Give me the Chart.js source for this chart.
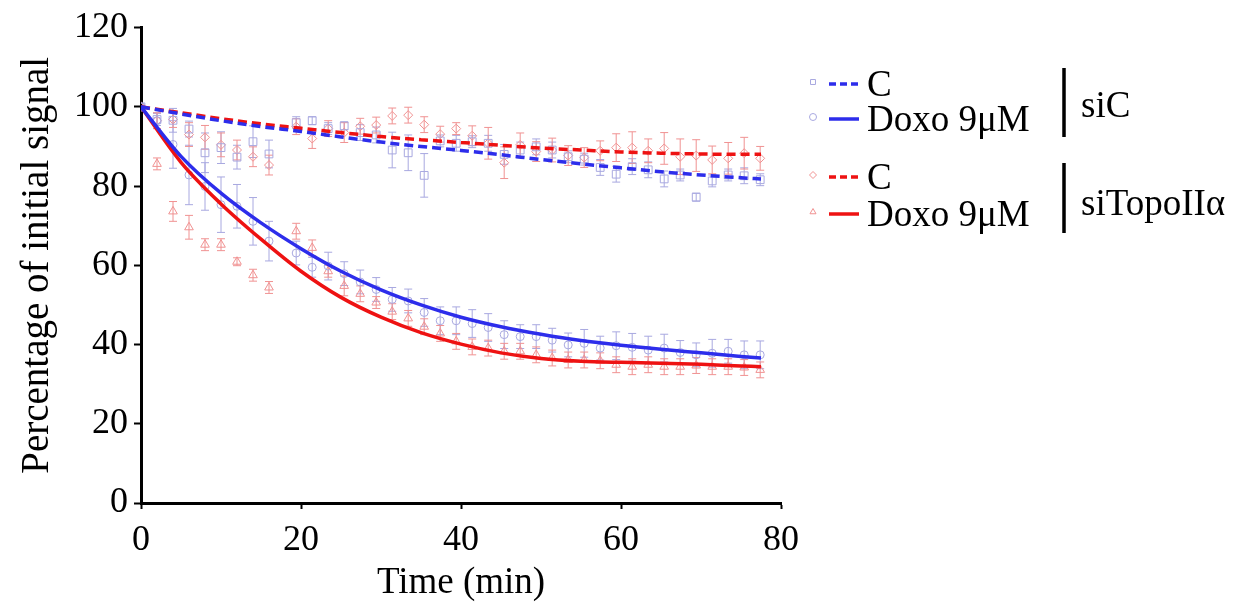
<!DOCTYPE html>
<html>
<head>
<meta charset="utf-8">
<script src="https://cdn.jsdelivr.net/npm/chart.js@4"></script>
<style>
  html, body { margin: 0; padding: 0; background: #fff; }
  #wrap { position: relative; width: 1247px; height: 610px; }
</style>
</head>
<body>
<div id="wrap"><canvas id="chart" width="1247" height="610"></canvas></div>
<script>
// Tiempos de medida (min)
const times = [0, 2, 4, 6, 8, 10, 12, 14, 16, 19.4, 21.4, 23.4, 25.4, 27.4, 29.4, 31.4, 33.4, 35.4, 37.4, 39.4,
  41.4, 43.4, 45.4, 47.4, 49.4, 51.4, 53.4, 55.4, 57.4, 59.4, 61.4, 63.4, 65.4, 67.4, 69.4, 71.4, 73.4, 75.4, 77.4];

// siC - C (cuadrados)
const siC_C = [100, 96.8, 96.6, 94.4, 88.4, 89.7, 87.3, 91.2, 88.1, 96, 96.5, 94.5, 95.2, 93.5, 92.9, 89.1, 88.4, 82.7, 91.4, 90.8,
  91.2, 90.8, 88.0, 89.1, 89.9, 89.1, 87.4, 86.8, 84.7, 83.0, 84.9, 84.1, 81.8, 82.8, 77.2, 81.3, 82.8, 82.6, 81.6];
const siC_C_err = [0, 1.5, 3, 2, 5, 4, 3, 4, 3.5, 1.5, 1, 1.5, 1, 2, 2, 4.5, 4.5, 5.5, 1.5, 2,
  1.5, 2, 2.5, 2, 2, 2, 1.5, 1.5, 2, 2, 2, 2, 2, 1.5, 1, 1.5, 1.5, 2, 1.5];

// siC - Doxo 9µM (círculos)
const siC_D = [100, 96.5, 90.5, 82.8, 79.9, 75.3, 74.9, 71.1, 66.1, 63.1, 59.5, 59.8, 57.9, 55.8, 53.9, 51.4, 51.0, 48.1, 46.0, 46.0,
  45.3, 44.3, 42.5, 42.0, 42.0, 41.1, 39.9, 40.3, 39.1, 39.7, 39.3, 38.6, 39.1, 38.0, 37.4, 37.8, 38.3, 37.4, 37.4];
const siC_D_err = [0, 2, 6, 7.5, 6, 7, 5.5, 6, 5, 3, 2.5, 3.5, 3, 3, 3, 3, 3, 3.5, 3.5, 3.5,
  3.5, 3.5, 3.5, 3, 3, 3, 3, 3.5, 3, 3.5, 3.5, 3.5, 3.5, 3, 3, 3.5, 3, 3.5, 3.5];

// siTopoIIα - C (rombos)
const siT_C = [100, 96.5, 96.8, 93, 92.3, 90.4, 89.1, 87.4, 85.3, 95, 92.0, 94.5, 93.5, 95.1, 95.4, 97.7, 97.9, 95.5, 93.1, 94.5,
  92.7, 90.8, 85.9, 90.4, 88.7, 89.1, 87.7, 87.2, 88.9, 89.7, 89.7, 88.9, 89.5, 87.4, 87.7, 86.6, 87.0, 88.3, 87.0];
const siT_C_err = [0, 2, 2, 3, 3, 3, 2.5, 2.5, 2.5, 2, 2.5, 2, 2.5, 2, 2, 2, 2, 2, 2, 1.5,
  2.5, 4, 4, 3, 2.5, 3, 2.5, 2.5, 2.5, 3.5, 4, 3, 4, 4.5, 4, 3.5, 4, 4, 3];

// siTopoIIα - Doxo 9µM (triángulos)
const siT_D = [100, 85.6, 73.6, 69.6, 65.2, 65.2, 60.9, 57.5, 54.4, 68.6, 64.4, 58.5, 54.8, 52.8, 50.6, 48.3, 46.6, 44.5, 42.8, 40.8,
  39.4, 39.1, 38.3, 38.3, 37.4, 36.6, 36.1, 36.1, 35.9, 34.9, 34.4, 34.9, 34.4, 34.4, 34.7, 34.4, 34.4, 34.2, 33.6];
const siT_D_err = [0, 1.5, 2.5, 3, 1.5, 1.5, 1, 1.5, 1.5, 2, 2, 1.5, 2.5, 2, 1.5, 2, 2, 2, 2, 2,
  2, 2, 2, 2, 2, 2, 2, 2, 2, 2, 2, 2, 2, 2, 2, 2, 2, 2, 2];

// Curvas de ajuste
const fitTimes = [0, 5, 10, 15, 20, 25, 30, 35, 40, 45, 50, 55, 60, 65, 70, 75, 77.5];
const fit_siC_C = [100, 98.2, 96.5, 95.0, 93.8, 92.4, 91.1, 90.0, 89.0, 87.9, 86.7, 85.6, 84.6, 83.6, 82.8, 82.1, 81.8];
const fit_siC_D = [100, 87.5, 78.2, 70.7, 64.2, 58.5, 53.8, 50.0, 46.9, 44.5, 42.6, 41.0, 39.8, 38.8, 37.9, 37.0, 36.6];
const fit_siT_C = [100, 98.5, 97.0, 95.7, 94.6, 93.5, 92.5, 91.7, 91.0, 90.3, 89.6, 89.1, 88.6, 88.3, 88.1, 88.0, 88.0];
const fit_siT_D = [100, 86.0, 75.5, 66.6, 58.5, 51.9, 46.9, 43.0, 40.1, 37.9, 36.5, 35.8, 35.5, 35.3, 35.0, 34.6, 34.4];

// Textos de la leyenda
const legendLabels = ['C', 'Doxo 9\u03BCM', 'C', 'Doxo 9\u03BCM'];
const groupLabels = ['siC', 'siTopoII\u03B1'];

const BLUE = 'rgb(45,45,235)';
const RED = 'rgb(238,18,18)';
const LBLUE = 'rgb(168,168,224)';
const LRED = 'rgb(240,146,146)';
const FONT = "'Liberation Serif', 'Times New Roman', serif";

function toXY(xs, ys) {
  return xs.map((x, i) => ({ x: x, y: ys[i] }));
}

function markerSet(label, ys, errs, color, style, r) {
  return {
    label: label,
    data: toXY(times, ys),
    errors: errs,
    showLine: false,
    pointStyle: style,
    pointRadius: r,
    pointBorderWidth: 1,
    pointBackgroundColor: 'rgba(255,255,255,0)',
    pointBorderColor: color,
    borderColor: color,
    order: 2
  };
}

function fitSet(label, ys, color, dashed) {
  return {
    label: label,
    data: toXY(fitTimes, ys),
    showLine: true,
    borderColor: color,
    borderWidth: 3.5,
    borderDash: dashed ? [9, 5] : [],
    pointRadius: 0,
    cubicInterpolationMode: 'monotone',
    fill: false,
    order: 1
  };
}

// Barras de error dibujadas con las escalas del gráfico
const errorBars = {
  id: 'errorBars',
  beforeDatasetsDraw(chart) {
    const { ctx, scales: { x, y } } = chart;
    ctx.save();
    ctx.lineWidth = 1;
    chart.data.datasets.forEach(ds => {
      if (!ds.errors) return;
      ctx.strokeStyle = ds.borderColor;
      ds.data.forEach((p, i) => {
        const e = ds.errors[i];
        if (!e) return;
        const px = x.getPixelForValue(p.x);
        const top = y.getPixelForValue(p.y + e);
        const bot = y.getPixelForValue(p.y - e);
        ctx.beginPath();
        ctx.moveTo(px, top); ctx.lineTo(px, bot);
        ctx.moveTo(px - 4, top); ctx.lineTo(px + 4, top);
        ctx.moveTo(px - 4, bot); ctx.lineTo(px + 4, bot);
        ctx.stroke();
      });
    });
    ctx.restore();
  }
};

// Leyenda a la derecha
const sideLegend = {
  id: 'sideLegend',
  afterDraw(chart) {
    const ctx = chart.ctx;
    const rows = [
      { y: 84, mk: 'rect', mc: LBLUE, lc: BLUE, dash: true },
      { y: 119, mk: 'circle', mc: LBLUE, lc: BLUE, dash: false },
      { y: 177, mk: 'rectRot', mc: LRED, lc: RED, dash: true },
      { y: 214, mk: 'triangle', mc: LRED, lc: RED, dash: false }
    ];
    ctx.save();
    ctx.font = '37px ' + FONT;
    ctx.textBaseline = 'alphabetic';
    rows.forEach((r, i) => {
      ctx.fillStyle = 'rgba(255,255,255,0)';
      ctx.strokeStyle = r.mc;
      ctx.lineWidth = 1;
      Chart.helpers.drawPoint(ctx, { pointStyle: r.mk, radius: 3.5, borderWidth: 1 }, 813, r.y - 2);
      ctx.beginPath();
      ctx.strokeStyle = r.lc;
      ctx.lineWidth = 3.5;
      ctx.setLineDash(r.dash ? [7, 4] : []);
      ctx.moveTo(829, r.y); ctx.lineTo(859, r.y);
      ctx.stroke();
      ctx.setLineDash([]);
      ctx.fillStyle = '#000';
      ctx.fillText(legendLabels[i], 867, r.y + 12);
    });
    ctx.strokeStyle = '#000';
    ctx.lineWidth = 3.5;
    ctx.beginPath();
    ctx.moveTo(1064, 68); ctx.lineTo(1064, 137);
    ctx.moveTo(1064, 163); ctx.lineTo(1064, 233);
    ctx.stroke();
    ctx.fillStyle = '#000';
    ctx.fillText(groupLabels[0], 1081, 117);
    ctx.fillText(groupLabels[1], 1081, 215);
    ctx.restore();
  }
};

const chart = new Chart(document.getElementById('chart'), {
  type: 'scatter',
  data: {
    datasets: [
      markerSet('C siC', siC_C, siC_C_err, LBLUE, 'rect', 5.5),
      markerSet('Doxo siC', siC_D, siC_D_err, LBLUE, 'circle', 4),
      markerSet('C siTopoIIα', siT_C, siT_C_err, LRED, 'rectRot', 4.5),
      markerSet('Doxo siTopoIIα', siT_D, siT_D_err, LRED, 'triangle', 5),
      fitSet('fit C siC', fit_siC_C, BLUE, true),
      fitSet('fit Doxo siC', fit_siC_D, BLUE, false),
      fitSet('fit C siTopoIIα', fit_siT_C, RED, true),
      fitSet('fit Doxo siTopoIIα', fit_siT_D, RED, false)
    ]
  },
  options: {
    responsive: false,
    animation: false,
    layout: { padding: { left: 0, top: 25, right: 466, bottom: 0 } },
    plugins: {
      legend: { display: false },
      tooltip: { enabled: false }
    },
    scales: {
      x: {
        type: 'linear',
        min: 0,
        max: 80,
        afterFit: s => { s.height = 107; },
        border: { display: true, color: '#000', width: 3 },
        grid: { drawOnChartArea: false, drawTicks: true, tickLength: 6, tickColor: '#000', tickWidth: 2 },
        ticks: { stepSize: 20, color: '#000', padding: 10, font: { family: FONT, size: 36 } },
        title: { display: true, text: 'Time (min)', color: '#000', padding: { top: 0, bottom: 5 }, font: { family: FONT, size: 37, lineHeight: 1.2 } }
      },
      y: {
        min: 0,
        max: 120,
        afterFit: s => { s.width = 141; },
        border: { display: true, color: '#000', width: 3 },
        grid: { drawOnChartArea: false, drawTicks: true, tickLength: 7, tickColor: '#000', tickWidth: 2 },
        ticks: { stepSize: 20, color: '#000', padding: 6, font: { family: FONT, size: 36 } },
        title: { display: true, text: 'Percentage of initial signal', color: '#000', padding: { top: 14, bottom: 0 }, font: { family: FONT, size: 39, lineHeight: 1.2 } }
      }
    }
  },
  plugins: [errorBars, sideLegend]
});
</script>
</body>
</html>
